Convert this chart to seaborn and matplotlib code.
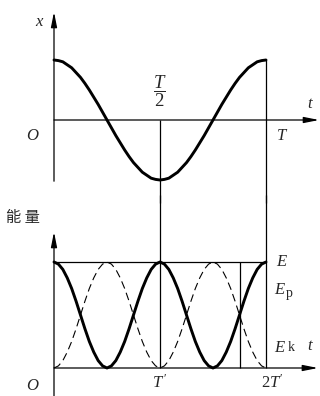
import numpy as np
import matplotlib
matplotlib.use("Agg")
import matplotlib.pyplot as plt
import seaborn as sns

# displacement x(t) over one period T, read every T/48 (half shown, second half mirrors it)
x_half = [1.0, 0.99, 0.97, 0.92, 0.87, 0.79, 0.71, 0.61, 0.5, 0.38, 0.26, 0.13, 0.0,
          -0.13, -0.26, -0.38, -0.5, -0.61, -0.71, -0.79, -0.87, -0.92, -0.97, -0.99, -1.0]
x_vals = x_half + x_half[-2::-1]
# potential energy Ep/E over 2T' (= T), read every T/48
ep_hump = [1.0, 0.98, 0.93, 0.85, 0.75, 0.63, 0.5, 0.37, 0.25, 0.15, 0.07, 0.02, 0.0,
           0.02, 0.07, 0.15, 0.25, 0.37, 0.5, 0.63, 0.75, 0.85, 0.93, 0.98, 1.0]
ep_vals = ep_hump + ep_hump[1:]
ek_hump = [0.0, 0.02, 0.07, 0.15, 0.25, 0.37, 0.5, 0.63, 0.75, 0.85, 0.93, 0.98, 1.0,
           0.98, 0.93, 0.85, 0.75, 0.63, 0.5, 0.37, 0.25, 0.15, 0.07, 0.02, 0.0]
ek_vals = ek_hump + ek_hump[1:]
t_vals = np.linspace(0, 1, len(x_vals))  # time in units of T
t_equal = 0.875  # Ep = Ek marker line

sns.set_style("white")
plt.rcParams["font.family"] = ["Liberation Serif", "DejaVu Sans"]
plt.rcParams["mathtext.fontset"] = "custom"
plt.rcParams["mathtext.it"] = "Liberation Serif:italic"
plt.rcParams["mathtext.rm"] = "Liberation Serif"

fig = plt.figure(figsize=(3.2, 3.96), dpi=100)
ax1 = fig.add_axes([0, 196 / 396, 1, 200 / 396])
ax2 = fig.add_axes([0, 0, 1, 196 / 396])
for ax in (ax1, ax2):
    ax.set_xlim(-54 / 212, 266 / 212)
    ax.axis("off")
ax1.set_ylim(-80 / 60, 120 / 60)
ax2.set_ylim(-28 / 106, 168 / 106)

arrow = dict(arrowstyle="-|>,head_length=0.9,head_width=0.18", mutation_scale=10,
             lw=0.9, color="k", shrinkA=0, shrinkB=0)
thin = dict(color="k", lw=0.9, clip_on=False)

# top panel: x-t
sns.lineplot(x=t_vals, y=x_vals, ax=ax1, color="k", lw=2.1, estimator=None)
ax1.annotate("", xy=(0, 1.8), xytext=(0, -1.02), arrowprops=arrow)
ax1.annotate("", xy=(1.25, 0), xytext=(0, 0), arrowprops=arrow)
ax1.vlines(0.5, ax1.get_ylim()[0] - 0.05, 0, **thin)
ax1.vlines(1, ax1.get_ylim()[0] - 0.05, 1, **thin)

fs = 12
ax1.text(-0.066, 1.63, "$x$", ha="center", va="center", size=fs)
ax1.text(1.212, 0.27, "$t$", ha="center", va="center", size=fs)
ax1.text(-0.099, -0.27, "$O$", ha="center", va="center", size=fs)
ax1.text(1.075, -0.27, "$T$", ha="center", va="center", size=fs)
ax1.text(0.5, 0.48, r"$\dfrac{T}{2}$", ha="center", va="center", size=13.5)

# bottom panel: energy
sns.lineplot(x=t_vals, y=ek_vals, ax=ax2, color="k", lw=0.8, linestyle=(0, (7, 4)), estimator=None)
sns.lineplot(x=t_vals, y=ep_vals, ax=ax2, color="k", lw=2.1, estimator=None)
ax2.annotate("", xy=(0, 1.283), xytext=(0, ax2.get_ylim()[0]), arrowprops=arrow)
ax2.annotate("", xy=(1.245, 0), xytext=(0, 0), arrowprops=arrow)
ax2.hlines(1, 0, 1, **thin)
ax2.vlines([0.5, 1], 0, ax2.get_ylim()[1] + 0.05, **thin)
ax2.vlines(t_equal, 0, 1, **thin)

ax2.text(-0.145, 1.42, "能 量", ha="center", va="center", size=11,
         family=["Noto Sans CJK SC", "DejaVu Sans"])
ax2.text(1.047, 1.0, "$E$", ha="left", va="center", size=fs)
ax2.text(1.038, 0.736, "$E$", ha="left", va="center", size=fs)
ax2.text(1.108, 0.70, "p", ha="center", va="center", size=10)
ax2.text(1.038, 0.193, "$E$", ha="left", va="center", size=fs)
ax2.text(1.118, 0.19, "k", ha="center", va="center", size=10)
ax2.text(1.208, 0.21, "$t$", ha="center", va="center", size=fs)
ax2.text(-0.1, -0.17, "$O$", ha="center", va="center", size=fs)
ax2.text(0.5, -0.14, r"$T\,'$", ha="center", va="center", size=fs)
ax2.text(1.03, -0.14, "$2T'$", ha="center", va="center", size=fs)

fig.savefig("out.png", dpi=100)
